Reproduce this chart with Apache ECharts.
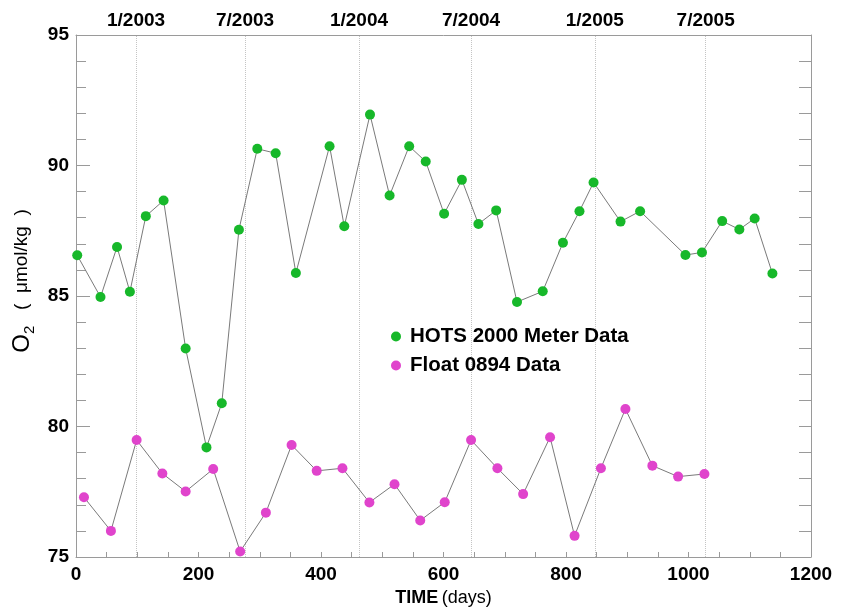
<!DOCTYPE html>
<html>
<head>
<meta charset="utf-8">
<script src="https://cdn.jsdelivr.net/npm/echarts@6/dist/echarts.min.js"></script>
<style>html,body{margin:0;padding:0;background:#fff}#c{width:841px;height:608px}</style>
</head>
<body>
<div id="c"></div>
<script>
const hotsDays = [2,40,67,88,114,143,179,213,238,266,296,326,359,414,438,480,512,544,571,601,630,657,686,720,762,795,822,845,889,921,995,1022,1055,1083,1108,1137];
const hotsO2 = [86.56,84.96,86.88,85.16,88.06,88.66,82.99,79.2,80.89,87.54,90.64,90.47,85.88,90.74,87.67,91.95,88.85,90.74,90.15,88.15,89.45,87.76,88.28,84.77,85.18,87.04,88.25,89.35,87.85,88.25,86.57,86.67,87.87,87.55,87.97,85.86];
const floatDays = [13,57,99,141,179,224,268,310,352,393,435,479,520,562,602,645,688,730,774,814,857,897,941,983,1026];
const floatO2 = [77.29,76.0,79.48,78.2,77.51,78.37,75.21,76.7,79.29,78.3,78.4,77.09,77.79,76.4,77.1,79.48,78.4,77.41,79.59,75.81,78.4,80.67,78.5,78.08,78.18];
const monthDays = [98,276,462,645,847,1028];
const monthLabels = ['1/2003','7/2003','1/2004','7/2004','1/2005','7/2005'];
const xTicks = {min:0, max:1200, interval:200};
const yTicks = {min:75, max:95, interval:5};

const FONT = "'Liberation Sans', Arial, Helvetica, sans-serif";
const chart = echarts.init(document.getElementById('c'));
const axisGray = '#9a9a9a';
chart.setOption({
  animation: false,
  backgroundColor: '#fff',
  textStyle: {fontFamily: FONT},
  grid: {left: 76, right: 30, top: 35, bottom: 51, containLabel: false, outerBoundsMode: 'none'},
  legend: {
    orient: 'vertical', left: 386, top: 321, itemWidth: 18, itemHeight: 10, itemGap: 8,
    icon: 'circle',
    textStyle: {fontFamily: FONT, fontSize: 20.5, fontWeight: 'bold', color: '#000', lineHeight: 19},
    data: ['HOTS 2000 Meter Data', 'Float 0894 Data']
  },
  xAxis: [{
    type: 'value', min: xTicks.min, max: xTicks.max, interval: xTicks.interval,
    axisLine: {show: true, onZero: false, lineStyle: {color: axisGray, width: 1}},
    axisTick: {show: true, inside: true, length: 5, lineStyle: {color: axisGray}},
    minorTick: {show: true, splitNumber: 4, length: 5, lineStyle: {color: axisGray}},
    splitLine: {show: false},
    axisLabel: {fontFamily: FONT, fontSize: 19, fontWeight: 'bold', color: '#000', margin: 8,
      formatter: v => String(v)},
    name: '{b|TIME} {n|(days)}', nameLocation: 'middle', nameGap: 32,
    nameTextStyle: {rich: {
      b: {fontFamily: FONT, fontSize: 18, fontWeight: 'bold', color: '#000'},
      n: {fontFamily: FONT, fontSize: 18, color: '#000'}
    }}
  }, {
    type: 'value', position: 'top', min: xTicks.min, max: xTicks.max, interval: xTicks.interval,
    axisLine: {show: true, onZero: false, lineStyle: {color: axisGray, width: 1}},
    axisTick: {show: false}, axisLabel: {show: false}, splitLine: {show: false}
  }],
  yAxis: [{
    type: 'value', min: yTicks.min, max: yTicks.max, interval: yTicks.interval,
    axisLine: {show: true, onZero: false, lineStyle: {color: axisGray, width: 1}},
    axisTick: {show: true, inside: true, length: 14, lineStyle: {color: axisGray}},
    minorTick: {show: true, splitNumber: 5, length: 10, lineStyle: {color: axisGray}},
    splitLine: {show: false},
    axisLabel: {fontFamily: FONT, fontSize: 19, fontWeight: 'bold', color: '#000', margin: 7},
    name: '{o|O}{s|2}{u|   (  μmol/kg  )}', nameLocation: 'middle', nameGap: 32, nameRotate: 90,
    nameTextStyle: {padding: [0, 0, 0, 30], rich: {
      o: {fontFamily: FONT, fontSize: 24, color: '#000', lineHeight: 30, verticalAlign: 'middle'},
      s: {fontFamily: FONT, fontSize: 15, color: '#000', verticalAlign: 'bottom'},
      u: {fontFamily: FONT, fontSize: 19, color: '#000', verticalAlign: 'middle'}
    }}
  }, {
    type: 'value', position: 'right', min: yTicks.min, max: yTicks.max, interval: yTicks.interval,
    axisLine: {show: true, onZero: false, lineStyle: {color: axisGray, width: 1}},
    axisTick: {show: true, inside: true, length: 12, lineStyle: {color: axisGray}},
    minorTick: {show: true, splitNumber: 5, length: 12, lineStyle: {color: axisGray}},
    axisLabel: {show: false}, splitLine: {show: false}
  }],
  series: [{
    name: 'HOTS 2000 Meter Data', type: 'line',
    data: hotsDays.map((d, i) => [d, hotsO2[i]]),
    symbol: 'circle', symbolSize: 10,
    itemStyle: {color: '#17b82a'},
    lineStyle: {color: '#7a7a7a', width: 1},
    z: 3,
    markLine: {
      silent: true, z: 1, symbol: ['none', 'none'],
      lineStyle: {type: 'dotted', color: '#c4c4c4', width: 1},
      label: {show: true, position: 'end', formatter: '{b}', distance: 5,
        fontFamily: FONT, fontSize: 19, fontWeight: 'bold', color: '#000'},
      data: monthDays.map((d, i) => ({xAxis: d, name: monthLabels[i]}))
    }
  }, {
    name: 'Float 0894 Data', type: 'line',
    data: floatDays.map((d, i) => [d, floatO2[i]]),
    symbol: 'circle', symbolSize: 10,
    itemStyle: {color: '#e044cc'},
    lineStyle: {color: '#7a7a7a', width: 1},
    z: 3
  }]
});
</script>
</body>
</html>
